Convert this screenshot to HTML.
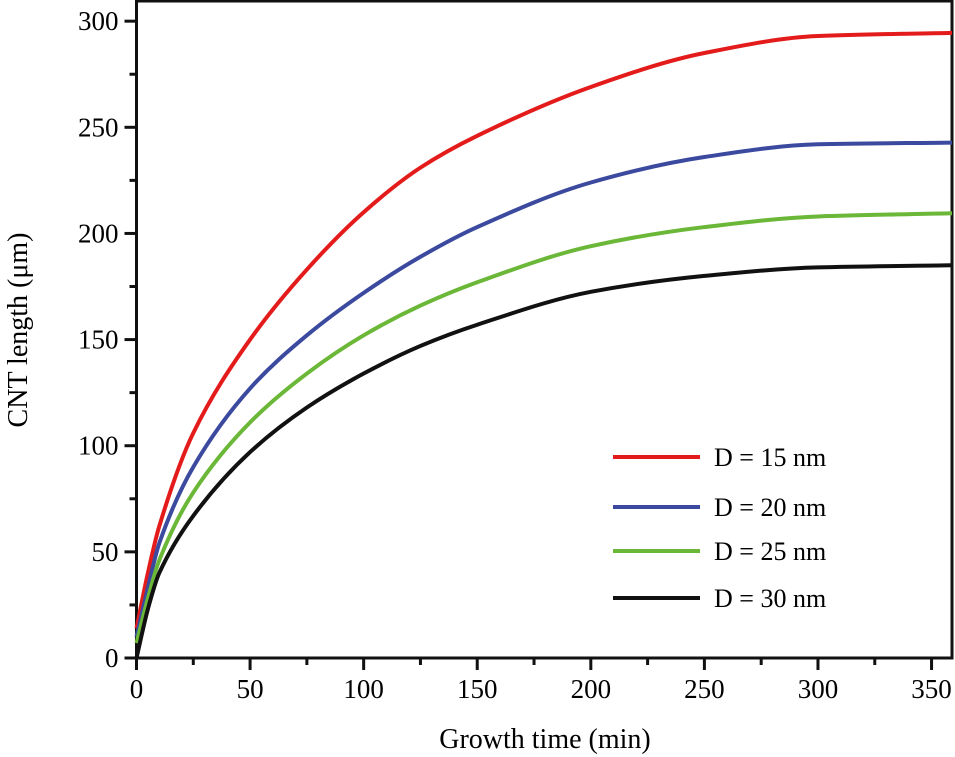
<!DOCTYPE html>
<html><head><meta charset="utf-8"><style>
body{margin:0;background:#fff}
svg{display:block;font-family:"Liberation Serif",serif}
</style></head><body>
<svg id="chart" width="955" height="757"></svg>
<script>
const xs=[0,5,10,25,50,75,100,125,150,200,250,300,359];
const red=[14,40,62,106,150,183,210,231,246,269,285,293,294.5];
const blue=[10,33,54,90,127,152,172,189,203,224,236,242,242.8];
const green=[7,28,46,78,111,134,152,166,177,194,203,208,209.5];
const black=[0,23,40,67,97,118,134,147,157,172.5,180,184,185];
const seriesNames=["D = 15 nm","D = 20 nm","D = 25 nm","D = 30 nm"];
const colors=["#e41b1b","#3b4a9e","#6bb738","#111"];
const xTicks=[0,50,100,150,200,250,300,350];
const yTicks=[0,50,100,150,200,250,300];
const NS="http://www.w3.org/2000/svg";
const svg=document.getElementById('chart');
const X0=136.5,X1=952,Y0=658,Y1=1,xMax=359,yMax=309.5;
const sx=v=>X0+v/xMax*(X1-X0), sy=v=>Y0-v/yMax*(Y0-Y1);
function el(t,a,p){const e=document.createElementNS(NS,t);for(const k in a)e.setAttribute(k,a[k]);(p||svg).appendChild(e);return e;}
function monoPath(px,py){
 const n=px.length,d=[],m=[];
 for(let i=0;i<n-1;i++)d.push((py[i+1]-py[i])/(px[i+1]-px[i]));
 m[0]=d[0];m[n-1]=d[n-2];
 for(let i=1;i<n-1;i++)m[i]=(d[i-1]*d[i]<=0)?0:2/(1/d[i-1]+1/d[i]);
 let s='M'+px[0]+','+py[0];
 for(let i=0;i<n-1;i++){const h=(px[i+1]-px[i])/3;
  s+=' C'+(px[i]+h)+','+(py[i]+m[i]*h)+' '+(px[i+1]-h)+','+(py[i+1]-m[i+1]*h)+' '+px[i+1]+','+py[i+1];}
 return s;
}
const frame=el('rect',{x:X0,y:Y1,width:X1-X0,height:Y0-Y1,fill:'none',stroke:'#111','stroke-width':3});


const all=[red,blue,green,black];
all.forEach((s,i)=>{
 const d=monoPath(xs.map(sx),s.map(sy));
 const p=el('path',{d:d,fill:'none',stroke:colors[i],'stroke-width':4});
 
 
 const ly=[457,507,551,598][i];
 const ll=el('line',{x1:613,x2:700,y1:ly,y2:ly,stroke:colors[i],'stroke-width':4});
 
 
 const lt=el('text',{x:714,y:ly+9,'font-size':26});lt.textContent=seriesNames[i];
 
 
});
xTicks.forEach(v=>{
 const t=el('line',{x1:sx(v),x2:sx(v),y1:Y0,y2:Y0+12,stroke:'#111','stroke-width':3});
 
 
 const m=el('line',{x1:sx(v+25),x2:sx(v+25),y1:Y0,y2:Y0+7,stroke:'#111','stroke-width':3});
 
 
 const l=el('text',{x:sx(v),y:Y0+40,'font-size':27,'text-anchor':'middle'});l.textContent=v;
 
 
});
yTicks.forEach(v=>{
 const t=el('line',{x1:X0-12,x2:X0,y1:sy(v),y2:sy(v),stroke:'#111','stroke-width':3});
 
 
 if(v<300){const m=el('line',{x1:X0-7,x2:X0,y1:sy(v+25),y2:sy(v+25),stroke:'#111','stroke-width':3});
 
 }
 const l=el('text',{x:X0-18,y:sy(v)+9,'font-size':27,'text-anchor':'end'});l.textContent=v;
 
 
});
const xt=el('text',{x:545,y:748,'font-size':28,'text-anchor':'middle'});xt.textContent='Growth time (min)';


const yt=el('text',{x:0,y:0,'font-size':28,'text-anchor':'middle',transform:'translate(27,330) rotate(-90)'});yt.textContent='CNT length (μm)';


</script>
</body></html>
